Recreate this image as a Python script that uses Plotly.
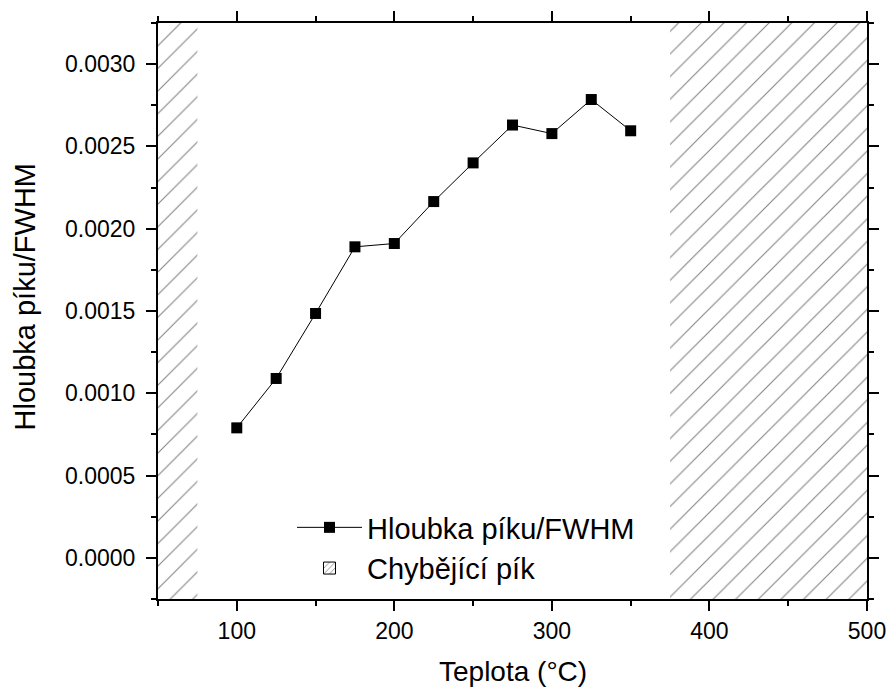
import plotly.graph_objects as go

# Data
temperature = [100, 125, 150, 175, 200, 225, 250, 275, 300, 325, 350]
depth_fwhm = [0.00079, 0.00109, 0.001485, 0.00189, 0.00191, 0.002165, 0.00240,
              0.00263, 0.002578, 0.002785, 0.002595]
missing_start = [50, 375]
missing_end = [75, 500]
x_range = [50, 500]
y_range = [-0.00025, 0.00325]
x_ticks = [100, 200, 300, 400, 500]
y_ticks = [0.0, 0.0005, 0.0010, 0.0015, 0.0020, 0.0025, 0.0030]

FONT = "Arial, 'Liberation Sans', sans-serif"
HATCH = dict(shape="/", size=16, solidity=0.065, fgcolor="black", bgcolor="white")

fig = go.Figure()

fig.add_trace(go.Scatter(
    x=temperature, y=depth_fwhm, mode="lines+markers",
    name="Hloubka píku/FWHM",
    line=dict(color="black", width=1),
    marker=dict(symbol="square", size=11, color="black"),
))

centers = [(a + b) / 2 for a, b in zip(missing_start, missing_end)]
widths = [b - a for a, b in zip(missing_start, missing_end)]
fig.add_trace(go.Bar(
    x=centers, width=widths,
    y=[y_range[1] - y_range[0]] * len(centers),
    base=[y_range[0]] * len(centers),
    name="Chybějící pík", legendgroup="missing", showlegend=False,
    marker=dict(color="white", line=dict(width=0), pattern=HATCH),
))
# legend entry for the hatched regions (boxed swatch)
fig.add_trace(go.Bar(
    x=[None], y=[None],
    name="Chybějící pík", legendgroup="missing", showlegend=True,
    marker=dict(color="white", line=dict(width=1, color="black"),
                pattern=dict(shape="/", size=5, solidity=0.2,
                             fgcolor="black", bgcolor="white")),
))

axis_common = dict(
    showline=True, linecolor="black", linewidth=2, mirror="ticks",
    ticks="outside", ticklen=10, tickwidth=2, tickcolor="black",
    showgrid=False, zeroline=False, automargin=False,
    tickfont=dict(family=FONT, size=23, color="black"),
)

fig.update_layout(
    width=887, height=688,
    margin=dict(l=158, r=20, t=23, b=89),
    paper_bgcolor="white", plot_bgcolor="white",
    barmode="overlay",
    font=dict(family=FONT, color="black"),
    xaxis=dict(range=x_range, tickvals=x_ticks,
               minor=dict(dtick=50, tick0=0, ticklen=5, tickwidth=2,
                          ticks="outside", tickcolor="black"),
               **axis_common),
    yaxis=dict(range=y_range, tickvals=y_ticks, tickformat=".4f",
               ticklabelstandoff=6,
               minor=dict(dtick=0.00025, tick0=0, ticklen=5, tickwidth=2,
                          ticks="outside", tickcolor="black"),
               **axis_common),
    showlegend=True,
    legend=dict(x=(292 - 158) / 709, y=(599 - 502) / 576,
                xanchor="left", yanchor="top",
                bgcolor="rgba(0,0,0,0)", borderwidth=0,
                itemwidth=65, tracegroupgap=0,
                font=dict(family=FONT, size=29, color="black")),
    annotations=[
        dict(text="Teplota (°C)", xref="paper", yref="paper",
             x=0.5, y=(599 - 671) / 576, xanchor="center", yanchor="middle",
             showarrow=False, font=dict(family=FONT, size=28, color="black")),
        dict(text="Hloubka píku/FWHM", xref="paper", yref="paper",
             x=(24 - 158) / 709, y=(599 - 296.5) / 576, textangle=-90,
             xanchor="center", yanchor="middle",
             showarrow=False, font=dict(family=FONT, size=29, color="black")),
    ],
)

fig.write_html("out.html",
               config={"displayModeBar": False},
               post_script="document.body.style.margin='0';"
                           "document.body.style.overflow='hidden';")
